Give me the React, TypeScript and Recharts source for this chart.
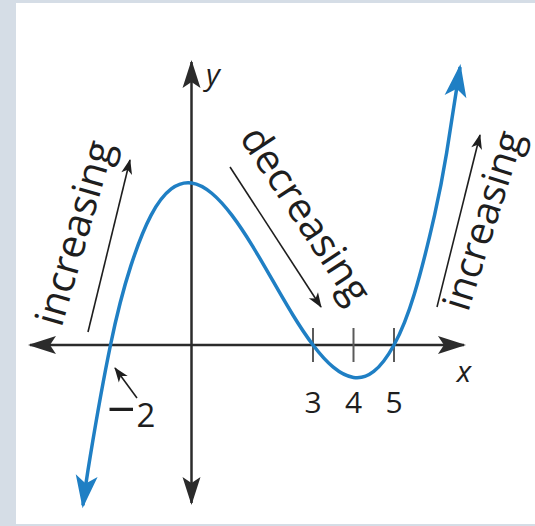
import React from 'react'
import { LineChart, Line, XAxis, YAxis, ReferenceLine, ReferenceDot } from 'recharts'

const W = 535
const H = 526

// graph origin in pixels and the pixel size of one unit on each axis
const ORIGIN_X = 191.5
const ORIGIN_Y = 345
const UNIT_X = 40.5
const UNIT_Y = 5.4

const X_DOMAIN = [-ORIGIN_X / UNIT_X, (W - ORIGIN_X) / UNIT_X]
const Y_DOMAIN = [-(H - ORIGIN_Y) / UNIT_Y, ORIGIN_Y / UNIT_Y]

// sampled points of the curve
const xs = [-2.68, -2.5, -2, -1.5, -1, -0.5, 0, 0.5, 1, 1.5, 2, 2.5, 3, 3.5, 4, 4.5, 5, 5.5, 6, 6.3, 6.63]
const ys = [-29.7, -20.6, 0, 14.6, 24, 28.9, 30, 28.1, 24, 18.4, 12, 5.6, 0, -4.1, -6, -4.9, 0, 9.4, 24, 35.6, 51.5]

const tickValues = [3, 4, 5]
const rootLabel = '−2'
const words = ['increasing', 'decreasing', 'increasing']

const data = xs.map((x, i) => ({ x, y: ys[i] }))

const INK = '#1e1e1e'
const AXIS = '#2b2b2b'
const CURVE = '#1f7fc4'
const FONT = '"Open Sans", "Noto Sans", sans-serif'

// rotated words and their little direction arrows
const wordLayout = [
  { x: -2.815, y: 20.56, angle: -74, size: 40, from: { x: -2.556, y: 2.41 }, to: { x: -1.519, y: 34.26 } },
  { x: 2.765, y: 23.8, angle: 56.6, size: 40, from: { x: 0.951, y: 32.96 }, to: { x: 3.198, y: 7.04 } },
  { x: 7.27, y: 22.9, angle: -72.5, size: 39, from: { x: 6.062, y: 7.04 }, to: { x: 7.123, y: 38.89 } },
]

function Markers() {
  return (
    <svg width={0} height={0} style={{ position: 'absolute' }}>
      <defs>
        <marker id="curveHead" markerUnits="userSpaceOnUse" viewBox="-34 -14 40 28" refX={0} refY={0}
          markerWidth={40} markerHeight={28} orient="auto-start-reverse">
          <path d="M3,0 L-30,-11 L-22,0 L-30,11 Z" fill={CURVE} />
        </marker>
        <marker id="axisHead" markerUnits="userSpaceOnUse" viewBox="-30 -12 34 24" refX={0} refY={0}
          markerWidth={34} markerHeight={24} orient="auto-start-reverse">
          <path d="M2,0 L-26,-9 L-20,0 L-26,9 Z" fill={AXIS} />
        </marker>
        <marker id="smallHead" markerUnits="userSpaceOnUse" viewBox="-16 -8 18 16" refX={0} refY={0}
          markerWidth={18} markerHeight={16} orient="auto">
          <path d="M1,0 L-14,-5.5 L-10,0 L-14,5.5 Z" fill={INK} />
        </marker>
      </defs>
    </svg>
  )
}

const axisShape = (p: any) => (
  <line x1={p.x1} y1={p.y1} x2={p.x2} y2={p.y2} stroke={AXIS} strokeWidth={2.5}
    markerStart="url(#axisHead)" markerEnd="url(#axisHead)" />
)

const pointerShape = (p: any) => (
  <line x1={p.x1} y1={p.y1} x2={p.x2} y2={p.y2} stroke={INK} strokeWidth={1.6} markerEnd="url(#smallHead)" />
)

const tickShape = (label: number) => (p: any) => (
  <g>
    <line x1={p.x1} y1={p.y1} x2={p.x2} y2={p.y2} stroke="#5a5a5a" strokeWidth={2} />
    <text x={p.x1} y={(p.y1 + p.y2) / 2 + 68} textAnchor="middle" fontSize={30} fontWeight={500}
      fill={INK} fontFamily={FONT}>
      {label}
    </text>
  </g>
)

const wordShape = (text: string, angle: number, size: number) => (p: any) => (
  <text x={p.cx} y={p.cy} transform={`rotate(${angle} ${p.cx} ${p.cy})`} textAnchor="middle"
    dominantBaseline="middle" fontSize={size} fontWeight={500} fill={INK} fontFamily={FONT}>
    {text}
  </text>
)

const plainText = (text: string, opts: any) => (p: any) => (
  <text x={p.cx} y={p.cy} fill={INK} fontFamily={FONT} {...opts}>{text}</text>
)

export default function App() {
  return (
    <div style={{ position: 'absolute', left: 0, top: 0, width: W, height: H, background: '#d5dde6' }}>
      <div style={{ position: 'absolute', left: 16, top: 3, width: W - 16, height: 521, background: '#fff' }} />
      <Markers />
      <div style={{ position: 'absolute', left: 0, top: 0 }}>
        <LineChart width={W} height={H} data={data} margin={{ top: 0, right: 0, bottom: 0, left: 0 }}>
          <XAxis type="number" dataKey="x" domain={X_DOMAIN} allowDataOverflow hide />
          <YAxis type="number" domain={Y_DOMAIN} allowDataOverflow hide />

          {/* x and y axes */}
          <ReferenceLine segment={[{ x: -3.988, y: 0 }, { x: 6.728, y: 0 }]} shape={axisShape} />
          <ReferenceLine segment={[{ x: 0, y: -29.26 }, { x: 0, y: 52.41 }]} shape={axisShape} />

          {tickValues.map(t => (
            <ReferenceLine key={t} segment={[{ x: t, y: 3.15 }, { x: t, y: -3.15 }]} shape={tickShape(t)} />
          ))}

          {words.map((w, i) => (
            <ReferenceLine key={`a${i}`} segment={[wordLayout[i].from, wordLayout[i].to]} shape={pointerShape} />
          ))}
          {words.map((w, i) => (
            <ReferenceDot key={`w${i}`} x={wordLayout[i].x} y={wordLayout[i].y} r={0}
              shape={wordShape(w, wordLayout[i].angle, wordLayout[i].size)} />
          ))}

          {/* pointer to the root at -2 */}
          <ReferenceLine segment={[{ x: -1.346, y: -9.81 }, { x: -1.889, y: -4.26 }]} shape={pointerShape} />
          <ReferenceDot x={-2.086} y={-15.2} r={0}
            shape={(p: any) => (
              <text x={p.cx} y={p.cy} fill={INK} fontFamily={FONT} fontWeight={500}>
                <tspan fontSize={50}>{rootLabel[0]}</tspan>
                <tspan dx={1} fontSize={33}>{rootLabel.slice(1)}</tspan>
              </text>
            )} />

          {/* axis names */}
          <ReferenceDot x={6.728} y={-6.85} r={0}
            shape={plainText('x', { textAnchor: 'middle', fontSize: 30, fontStyle: 'italic' })} />
          <ReferenceDot x={0.358} y={48.15} r={0}
            shape={plainText('y', { fontSize: 30, fontStyle: 'italic' })} />

          <Line dataKey="y" type="natural" stroke={CURVE} strokeWidth={3.5} dot={false} activeDot={false}
            isAnimationActive={false} markerStart="url(#curveHead)" markerEnd="url(#curveHead)" />
        </LineChart>
      </div>
    </div>
  )
}
